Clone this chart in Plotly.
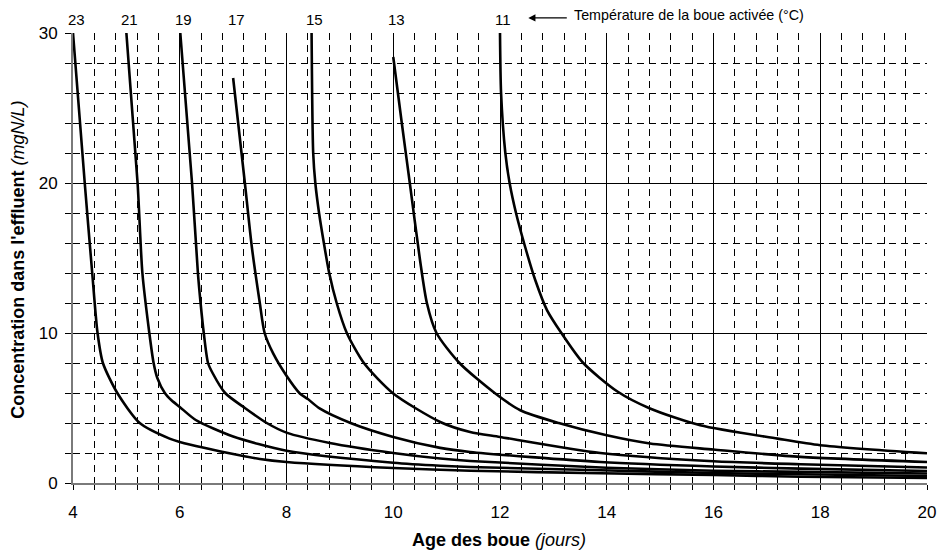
import plotly.graph_objects as go

# Temperature labels (°C) for each curve
temps = ["23", "21", "19", "17", "15", "13", "11"]

# Curve data: sludge age (days) vs effluent concentration (mgN/L)
x_23 = [4.0, 4.22, 4.36, 4.46, 4.56, 4.83, 5.25, 5.81, 6.0, 7.12, 7.5, 8.0, 10.0, 11.44, 13.88, 16.0, 17.63, 20.0]
y_23 = [30.0, 20.0, 14.0, 10.0, 8.0, 6.0, 4.0, 2.96, 2.74, 1.85, 1.6, 1.4, 1.0, 0.82, 0.65, 0.53, 0.42, 0.33]

x_21 = [5.0, 5.21, 5.30, 5.43, 5.51, 5.58, 5.72, 5.85, 6.0, 6.3, 7.0, 8.0, 10.0, 10.88, 11.44, 13.88, 16.0, 17.63, 20.0]
y_21 = [30.0, 20.0, 14.0, 10.0, 8.0, 7.0, 6.0, 5.5, 5.07, 4.2, 3.1, 2.15, 1.35, 1.15, 1.07, 0.85, 0.67, 0.58, 0.47]

x_19 = [6.01, 6.23, 6.34, 6.39, 6.45, 6.53, 6.62, 6.85, 7.22, 7.63, 8.0, 8.81, 10.0, 10.88, 11.44, 14.0, 16.0, 17.63, 20.0]
y_19 = [30.0, 20.0, 14.0, 12.0, 10.0, 8.0, 7.3, 6.0, 5.0, 4.0, 3.36, 2.67, 2.0, 1.63, 1.47, 1.02, 0.82, 0.74, 0.63]

x_17 = [7.0, 7.22, 7.35, 7.5, 7.59, 7.75, 8.0, 8.25, 8.4, 8.62, 9.2, 10.0, 10.88, 11.44, 13.88, 16.0, 17.63, 20.0]
y_17 = [27.0, 20.0, 15.75, 12.0, 10.0, 8.64, 7.15, 5.97, 5.6, 4.97, 4.0, 3.07, 2.34, 2.07, 1.4, 1.1, 0.96, 0.8]

x_15 = [8.47, 8.50, 8.54, 8.61, 8.7, 8.8, 8.94, 9.13, 9.45, 10.0, 10.88, 11.44, 12.0, 13.88, 16.0, 17.63, 20.0]
y_15 = [30.0, 22.0, 20.0, 18.0, 16.0, 14.0, 12.0, 10.0, 8.0, 5.97, 4.07, 3.4, 3.07, 2.0, 1.45, 1.25, 1.03]

x_13 = [10.0, 10.16, 10.31, 10.5, 10.63, 10.81, 11.24, 11.9, 12.38, 13.1, 14.0, 14.81, 16.0, 17.63, 20.0]
y_13 = [28.4, 24.0, 20.0, 14.9, 12.0, 10.0, 8.0, 6.0, 4.85, 4.0, 3.18, 2.63, 2.23, 1.74, 1.4]

x_11 = [12.0, 12.02, 12.1, 12.18, 12.3, 12.47, 12.66, 12.88, 13.15, 13.56, 14.2, 14.81, 15.75, 17.2, 18.0, 20.0]
y_11 = [30.0, 26.0, 22.0, 20.0, 18.0, 15.75, 13.53, 11.53, 10.0, 8.0, 6.1, 4.97, 3.85, 2.96, 2.52, 1.98]

curves_x = [x_23, x_21, x_19, x_17, x_15, x_13, x_11]
curves_y = [y_23, y_21, y_19, y_17, y_15, y_13, y_11]

x_ticks = [4, 6, 8, 10, 12, 14, 16, 18, 20]
y_ticks = [0, 10, 20, 30]

FONT = "Arial, Liberation Sans, sans-serif"

fig = go.Figure()
for name, xs, ys in zip(temps, curves_x, curves_y):
    fig.add_trace(go.Scatter(
        x=xs, y=ys, mode="lines", name=name + " °C",
        line=dict(color="black", width=2.6, shape="spline", smoothing=0.7),
        showlegend=False, hoverinfo="x+y+name",
    ))

# temperature labels above each curve start
for name, xs in zip(temps, curves_x):
    fig.add_annotation(
        x=xs[0], y=1.0298, xref="x", yref="paper", text=name, showarrow=False,
        xanchor="center", yanchor="middle", xshift=3,
        font=dict(family=FONT, size=15, color="black"),
    )

# arrow + legend text
fig.add_annotation(
    x=12.53, y=1.0336, xref="x", yref="paper", text="", showarrow=True,
    ax=40, ay=0, arrowhead=2, arrowsize=1.1, arrowwidth=1.3, arrowcolor="black",
)
fig.add_annotation(
    x=13.35, y=1.039, xref="x", yref="paper",
    text="Température de la boue activée (°C)", showarrow=False,
    xanchor="left", yanchor="middle",
    font=dict(family=FONT, size=14.3, color="black"),
)

# axis titles as annotations for exact placement
fig.add_annotation(
    x=0.499, y=0, xref="paper", yref="paper", yshift=-57,
    text="<b>Age des boue</b> <i>(jours)</i>", showarrow=False,
    xanchor="center", yanchor="middle",
    font=dict(family=FONT, size=18, color="black"),
)
fig.add_annotation(
    x=0, y=0.496, xref="paper", yref="paper", xshift=-55, textangle=-90,
    text="<b>Concentration dans l'effluent</b> <i>(mgN/L)</i>", showarrow=False,
    xanchor="center", yanchor="middle",
    font=dict(family=FONT, size=18, color="black"),
)

fig.update_xaxes(
    range=[4, 20], tickvals=x_ticks, ticktext=[str(v) for v in x_ticks],
    showgrid=True, gridcolor="black", gridwidth=1,
    showline=True, linecolor="#7a7a7a", linewidth=2,
    ticks="outside", ticklen=5, tickcolor="black",
    zeroline=False, automargin=False, ticklabelstandoff=8,
    tickfont=dict(family=FONT, size=17, color="black"),
    minor=dict(dtick=0.4, tick0=4, showgrid=True, gridcolor="black", gridwidth=1,
               griddash="7px,5px", ticks="outside", ticklen=5, tickcolor="black"),
)
fig.update_yaxes(
    range=[0, 30], tickvals=y_ticks, ticktext=[str(v) for v in y_ticks],
    showgrid=True, gridcolor="black", gridwidth=1,
    showline=True, linecolor="#7a7a7a", linewidth=2,
    ticks="outside", ticklen=6, tickcolor="black",
    zeroline=False, automargin=False, ticklabelstandoff=4,
    tickfont=dict(family=FONT, size=17, color="black"),
    minor=dict(dtick=2, tick0=0, showgrid=True, gridcolor="black", gridwidth=1,
               griddash="7px,5px", ticks="outside", ticklen=6, tickcolor="black"),
)

fig.update_layout(
    width=940, height=554,
    margin=dict(l=73, r=13, t=33, b=71),
    plot_bgcolor="white", paper_bgcolor="white",
    font=dict(family=FONT, color="black"),
)

fig.write_html(
    "out.html",
    config={"displayModeBar": False},
    post_script="document.body.style.margin='0';document.body.style.overflow='hidden';",
)
